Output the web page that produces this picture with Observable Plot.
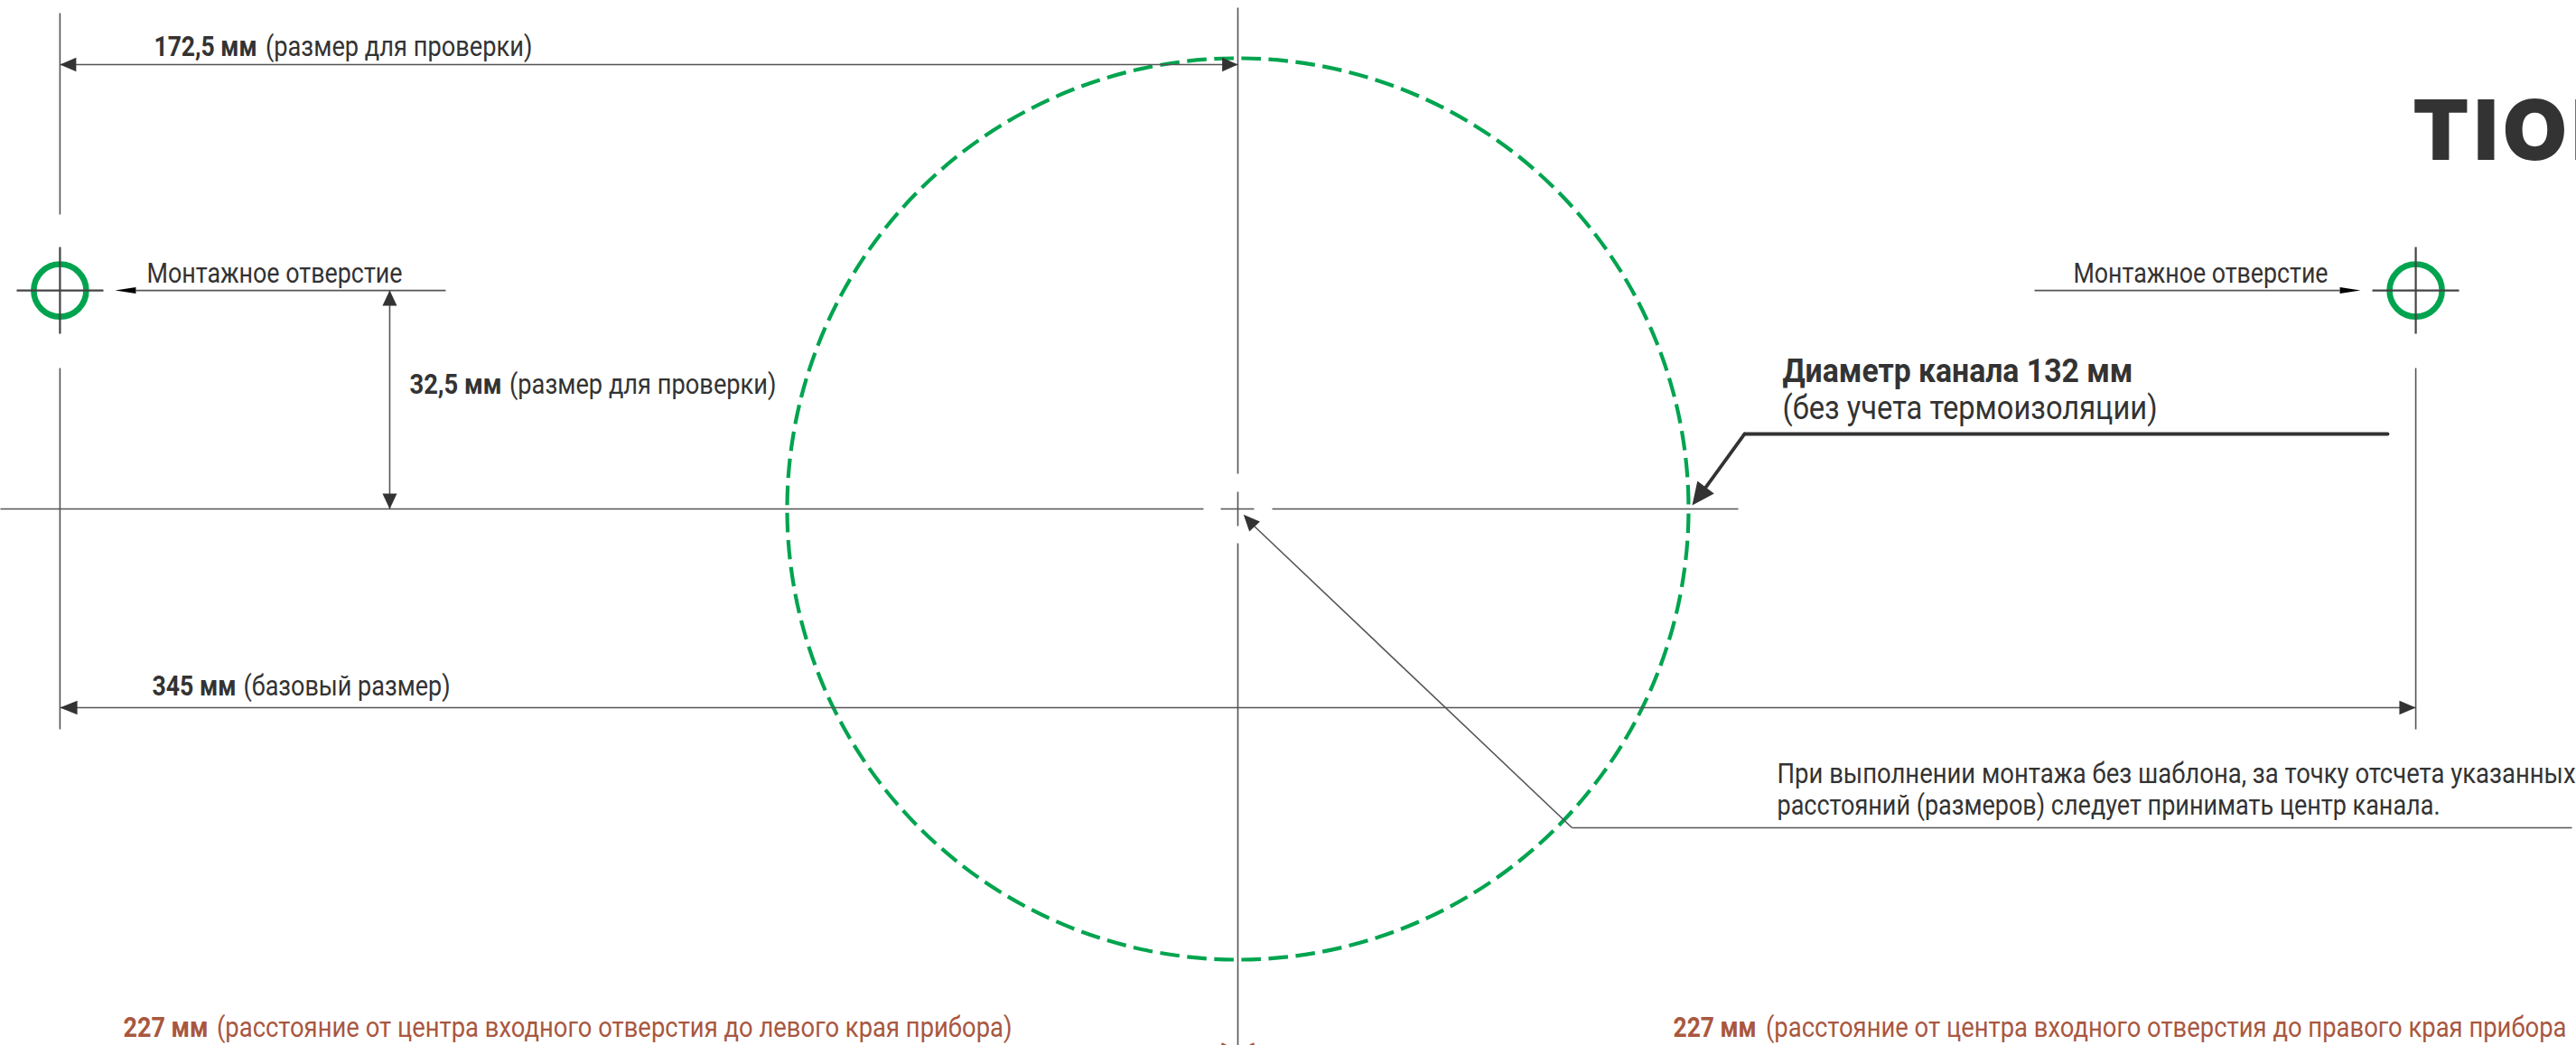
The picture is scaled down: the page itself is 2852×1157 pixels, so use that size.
<!DOCTYPE html>
<html lang="ru">
<head>
<meta charset="utf-8">
<style>html,body{margin:0;padding:0;background:#fff;overflow:hidden}svg{display:block}</style>
<script src="https://cdn.jsdelivr.net/npm/d3@7"></script>
<script src="https://cdn.jsdelivr.net/npm/@observablehq/plot@0.6"></script>
</head>
<body>
<div id="chart"></div>
<script>
// All geometry is in millimetres, origin at the channel centre, y up.
const holeX = 172.5, holeY = 32;

const circles = [{x: 0, y: 0, radius: 66}];
const holes = [{x: -holeX, y: holeY, radius: 3.84}, {x: holeX, y: holeY, radius: 3.84}];

const thinLines = [
  [-holeX, 72.62, -holeX, 43.12], [-holeX, 20.63, -holeX, -32.28],
  [holeX, 20.63, holeX, -32.28],
  [0, 73.41, 0, 5.16], [0, 2.51, 0, -2.51], [0, -5.03, 0, -78.57],
  [-181.22, 0, -5.03, 0], [-2.51, 0, 2.38, 0], [5.03, 0, 73.28, 0],
  [-172.5, 65.08, 0, 65.08],
  [-161.38, holeY, -116.01, holeY], [116.67, holeY, 161.38, holeY],
  [-124.21, holeY, -124.21, 0],
  [-172.5, -29.1, 172.5, -29.1],
  [2.46, -2.58, 48.94, -46.69], [48.94, -46.69, 195.37, -46.69]
];
const crossLines = [
  [-holeX, 38.36, -holeX, 25.66], [-178.84, holeY, -166.14, holeY],
  [holeX, 38.36, holeX, 25.66], [166.14, holeY, 178.84, holeY]
];
const leaderLines = [
  [68.52, 3.17, 74.21, 10.98], [74.21, 10.98, 168.39, 10.98]
];
const redTicks = [[-2.38, -78.3, -1.6, -78.7], [2.38, -78.3, 1.6, -78.7]];

// tip x, tip y, base x, base y, half width, colour
const heads = [
  [-172.5, 65.08, -170.12, 65.08, 1.02, "#333"],
  [0, 65.08, -2.3, 65.08, 1.02, "#333"],
  [-164.42, holeY, -161.38, holeY, 0.46, "#000"],
  [164.42, holeY, 161.38, holeY, 0.46, "#000"],
  [-124.21, holeY, -124.21, 29.76, 1.06, "#333"],
  [-124.21, 0, -124.21, 2.25, 1.06, "#333"],
  [-172.5, -29.1, -169.96, -29.1, 1.02, "#333"],
  [172.5, -29.1, 170.1, -29.1, 1.02, "#333"],
  [66.53, 0.53, 68.52, 3.17, 1.53, "#333"],
  [0.83, -0.83, 2.46, -2.58, 1.06, "#333"]
];

// text, left, baseline, right
const boldDark = [
  ["172,5 мм", -158.73, 66.27, -143.65],
  ["32,5 мм", -121.3, 16.93, -107.8],
  ["345 мм", -158.99, -27.38, -146.69]
];
const boldTitle = [["Диаметр канала 132 мм", 79.76, 18.65, 131.08]];
const regularDark = [
  ["(размер для проверки)", -142.4, 66.27, -103.31],
  ["(размер для проверки)", -106.68, 16.93, -67.59],
  ["(базовый размер)", -145.64, -27.38, -115.34],
  ["Монтажное отверстие", -159.79, 33.2, -122.35],
  ["Монтажное отверстие", 122.35, 33.2, 159.66],
  ["При выполнении монтажа без шаблона, за точку отсчета указанных", 78.97, -40.08, 195.9],
  ["расстояний (размеров) следует принимать центр канала.", 78.97, -44.84, 176.06]
];
const regularTitle = [["(без учета термоизоляции)", 79.76, 13.1, 134.66]];
const boldRed = [
  ["227 мм", -163.23, -77.25, -150.79],
  ["227 мм", 63.76, -77.25, 75.93]
];
const regularRed = [
  ["(расстояние от центра входного отверстия до левого края прибора)", -149.54, -77.25, -33.07],
  ["(расстояние от центра входного отверстия до правого края прибора", 77.31, -77.25, 194.58]
];
const logo = [["TION", 172.0, 51.19, 201]];

const dark = "#333", red = "#a9573f", green = "#00a44f";
const seg = (rows, o) => Plot.link(rows, {
  x1: d => d[0], y1: d => d[1], x2: d => d[2], y2: d => d[3], ...o
});
const triangles = heads.flatMap(([tx, ty, bx, by, hw, c], id) => {
  const dx = bx - tx, dy = by - ty, l = Math.hypot(dx, dy);
  const px = -dy / l * hw, py = dx / l * hw;
  return [[tx, ty], [bx + px, by + py], [bx - px, by - py]].map(([x, y]) => ({id, x, y, c}));
});
const label = (rows, o) => Plot.text(rows, {
  text: d => d[0], x: d => d[1], y: d => d[2],
  textAnchor: "start", lineAnchor: "bottom", fontFamily: "Roboto", ...o
});
const textGroups = [boldDark, boldTitle, regularDark, regularTitle, boldRed, regularRed, logo];

const plot = Plot.plot({
  width: 2852, height: 1157,
  marginTop: 0, marginRight: 0, marginBottom: 0, marginLeft: 0,
  style: {background: "#fff", overflow: "hidden"},
  x: {domain: [-1370 / 7.56, 1482 / 7.56], axis: null},
  y: {domain: [-594 / 7.56, 563 / 7.56], axis: null},
  r: {type: "linear", domain: [0, 66], range: [0, 499]},
  marks: [
    Plot.dot(circles, {x: "x", y: "y", r: "radius", stroke: green, strokeWidth: 4.2,
      strokeDasharray: "21.6 8.53", strokeDashoffset: -5}),
    seg(thinLines, {stroke: "#555", strokeWidth: 1.6}),
    Plot.dot(holes, {x: "x", y: "y", r: "radius", stroke: green, strokeWidth: 6.6}),
    seg(crossLines, {stroke: "#444", strokeWidth: 2.2}),
    seg(leaderLines, {stroke: dark, strokeWidth: 3.8, strokeLinecap: "round"}),
    seg(redTicks, {stroke: red, strokeWidth: 2.5}),
    Plot.line(triangles.filter(d => d.c === "#333"), {x: "x", y: "y", z: "id", fill: "#333", stroke: null, curve: "linear"}),
    Plot.line(triangles.filter(d => d.c === "#000"), {x: "x", y: "y", z: "id", fill: "#000", stroke: null, curve: "linear"}),
    label(boldDark, {fill: dark, fontWeight: 700, fontSize: 32}),
    label(boldTitle, {fill: dark, fontWeight: 700, fontSize: 36}),
    label(regularDark, {fill: dark, fontSize: 32}),
    label(regularTitle, {fill: dark, fontSize: 36}),
    label(boldRed, {fill: red, fontWeight: 700, fontSize: 32}),
    label(regularRed, {fill: red, fontSize: 32}),
    label(logo, {fill: dark, fontFamily: "Inter", fontWeight: 900, fontSize: 92})
  ]
});

// Fit each label to the extent it has in the drawing.
const sx = plot.scale("x").apply;
const rows = textGroups.flat();
plot.querySelectorAll("text").forEach((el, i) => {
  const r = rows[i];
  if (!r) return;
  if (r === logo[0]) { el.style.letterSpacing = "5px"; return; }
  el.setAttribute("textLength", sx(r[3]) - sx(r[1]));
  el.setAttribute("lengthAdjust", "spacingAndGlyphs");
});
document.getElementById("chart").append(plot);
</script>
</body>
</html>
